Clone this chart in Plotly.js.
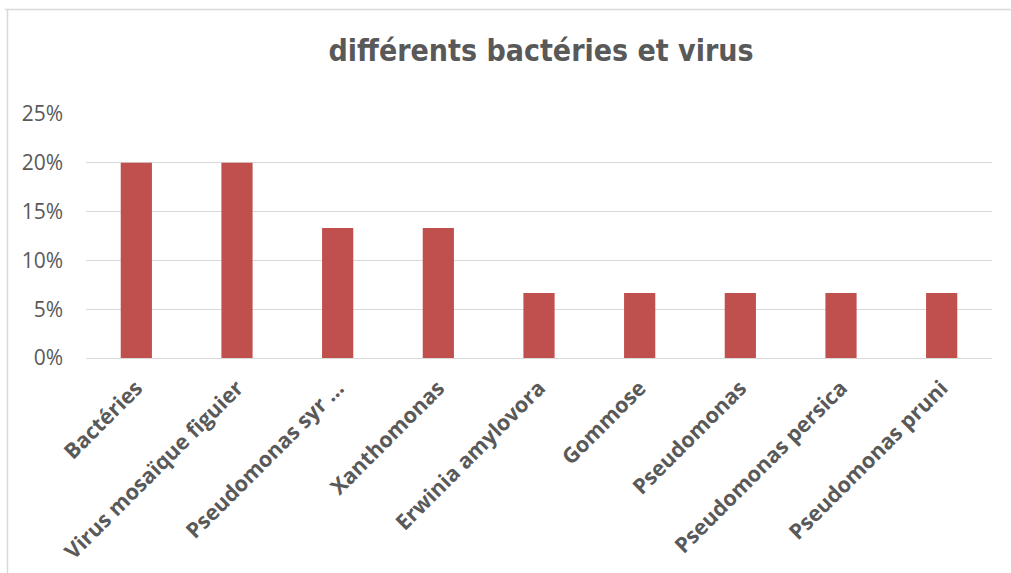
<!DOCTYPE html>
<html>
<head>
<meta charset="utf-8">
<script src="https://cdn.plot.ly/plotly-3.0.1.min.js"></script>
<style>html,body{margin:0;padding:0;background:#fff;}#chart{width:1011px;height:573px;}</style>
</head>
<body>
<div id="chart"></div>
<script>
const categories = ["Bactéries", "Virus mosaïque figuier", "Pseudomonas syr …", "Xanthomonas", "Erwinia amylovora", "Gommose", "Pseudomonas", "Pseudomonas persica", "Pseudomonas pruni"];
const values = [0.20, 0.20, 0.1333, 0.1333, 0.0667, 0.0667, 0.0667, 0.0667, 0.0667];
const yTicks = [0, 0.05, 0.10, 0.15, 0.20, 0.25];
const titleText = "différents bactéries et virus";

const W = 1011, H = 573;
const mL = 86, mR = 19, mT = 114, mB = 215;
const pw = W - mL - mR, ph = H - mT - mB;
const px = v => (v - mL) / pw;
const py = v => (H - mB - v) / ph;

const trace = {
  type: "bar",
  x: categories,
  y: values,
  marker: {color: "#C0504D"},
  hoverinfo: "x+y"
};

const layout = {
  width: W, height: H,
  margin: {l: mL, r: mR, t: mT, b: mB, pad: 0},
  paper_bgcolor: "#ffffff",
  plot_bgcolor: "#ffffff",
  bargap: 0.69,
  showlegend: false,
  title: {
    text: "<b>" + titleText + "</b>",
    x: 541 / W, xanchor: "center",
    y: 1 - 50 / H, yanchor: "middle",
    font: {family: "Liberation Sans Narrow, DejaVu Sans Condensed, Open Sans, sans-serif", size: 30, color: "#595959"}
  },
  xaxis: {
    type: "category",
    tickangle: -45,
    showgrid: false,
    showline: true,
    linecolor: "#d9d9d9",
    linewidth: 1,
    ticks: "",
    ticklabelstandoff: 8,
    tickfont: {family: "Open Sans, sans-serif", size: 21.5, color: "#595959", weight: "bold"}
  },
  yaxis: {
    range: [0, 0.25],
    tickvals: yTicks,
    tickformat: ".0%",
    showgrid: true,
    gridcolor: "#d9d9d9",
    gridwidth: 1,
    zeroline: false,
    showline: false,
    ticks: "",
    ticklabelstandoff: 22,
    tickfont: {family: "Open Sans, sans-serif", size: 21, color: "#595959"}
  },
  shapes: [
    {type: "line", xref: "paper", yref: "paper", x0: px(5), x1: px(1011), y0: py(9.5), y1: py(9.5), line: {color: "#d9d9d9", width: 1.5}},
    {type: "line", xref: "paper", yref: "paper", x0: px(7.5), x1: px(7.5), y0: py(9.5), y1: py(573), line: {color: "#d9d9d9", width: 1.5}}
  ]
};

Plotly.newPlot("chart", [trace], layout, {displayModeBar: false, staticPlot: true});
</script>
</body>
</html>
